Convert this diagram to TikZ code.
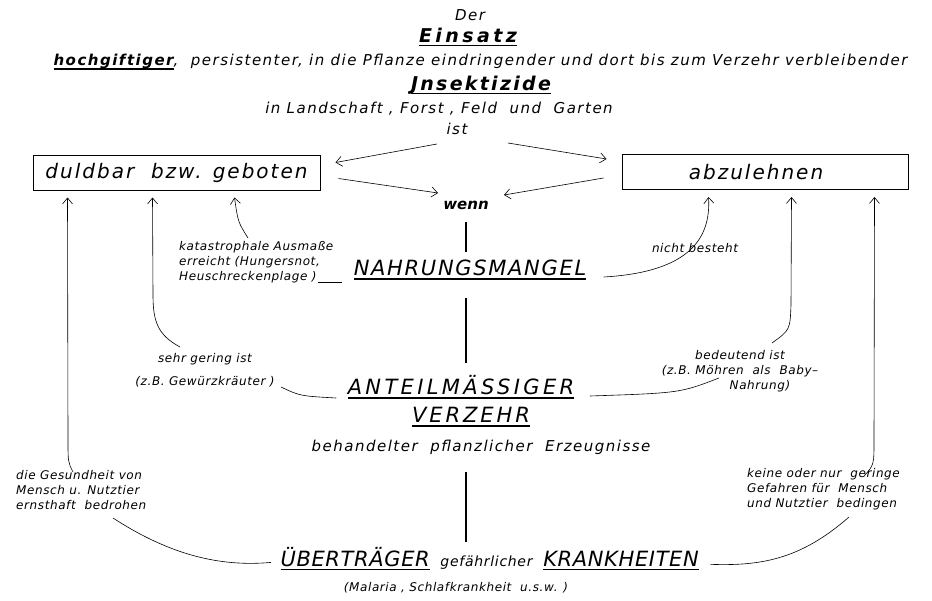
\documentclass[tikz,border=0pt]{standalone}
\usepackage{fontspec}
\setmainfont{DejaVu Sans}
\usetikzlibrary{arrows.meta,calc,positioning}

% underline with a heavier rule
\newcommand\strich[1]{\setbox0\hbox{#1}\rlap{\rule[-4pt]{\wd0}{1.3pt}}\box0}

\begin{document}
\begin{tikzpicture}[x=1pt,y=-1pt,
  zeile/.style={font=\fontsize{15}{17}\selectfont\itshape\addfontfeatures{LetterSpace=10}},
  klein/.style={font=\fontsize{12}{15}\selectfont\itshape\addfontfeatures{LetterSpace=5}, inner sep=1pt},
  titel/.style={font=\fontsize{19}{22}\selectfont\bfseries\itshape\addfontfeatures{LetterSpace=#1}},
  titel/.default=12,
  haupt/.style={font=\fontsize{21}{24}\selectfont\itshape\addfontfeatures{LetterSpace=#1}},
  haupt/.default=8,
  kasten/.style={draw, line width=1pt, minimum height=35pt, inner sep=0pt,
    font=\fontsize{20}{22}\selectfont\itshape\addfontfeatures{LetterSpace=10}},
  pfeil/.style={-{Straight Barb[length=6pt,width=10pt]}, line width=0.6pt},
  linie/.style={line width=0.6pt},
  balken/.style={line width=2.5pt}]

\useasboundingbox (0,0) rectangle (932,600);

% title
\node[zeile] (der) at (470,15) {Der};
\node[titel=18] (einsatz) at (468,37) {\strich{Einsatz}};
\node[zeile, anchor=west] (zeile3) at (50,62)
  {\strich{\bfseries hochgiftiger}, \ persistenter, in die Pflanze eindringender und dort bis zum Verzehr verbleibender};
\node[titel] (insekt) at (481,85) {\strich{Jnsektizide}};
\node[zeile] (orte) at (439,109) {in Landschaft , Forst , Feld \ und \ Garten};
\node[zeile] (ist) at (457,129) {ist};

% the two answers
\node[kasten, minimum width=287pt] (lb) at (176.5,172.5) {duldbar \ bzw. geboten};
\node[kasten, minimum width=286pt] (rb) at (765,172) {\hspace*{-18pt}abzulehnen};
\node[font=\fontsize{15}{17}\selectfont\bfseries\itshape] (wenn) at (466,205) {wenn};

% the three cases
\node[haupt] (nahrung) at (470,270) {\strich{NAHRUNGSMANGEL}};
\node[haupt=16] (anteil) at (461,387) {\strich{ANTEILMÄSSIGER}};
\node[haupt=14] (verzehr) at (471,417) {\strich{VERZEHR}};
\node[zeile] (behandelt) at (481,447) {behandelter \ pflanzlicher \ Erzeugnisse};
\node[haupt=3, anchor=base west] (ueber) at (277,566) {\strich{ÜBERTRÄGER}};
\node[klein, font=\fontsize{14}{16}\selectfont\itshape\addfontfeatures{LetterSpace=5},
  base right=6pt of ueber] (gef) {gefährlicher};
\node[haupt=3, base right=6pt of gef] (krank) {\strich{KRANKHEITEN}};
\node[klein] (malaria) at (456,588) {(Malaria , Schlafkrankheit \ u.s.w. )};

% side labels
\node[klein, anchor=north west, align=left] (kat) at (178,240)
  {katastrophale Ausmaße\\erreicht (Hungersnot,\\Heuschreckenplage )};
\node[klein] (nicht) at (695,248) {nicht besteht};
\node[klein, align=center] (sehr) at (205,370) {sehr gering ist\\[8pt](z.B. Gewürzkräuter )};
\node[klein, align=center] (bedeutend) at (740,371)
  {bedeutend ist\\(z.B. Möhren \ als \ Baby--\\\hspace*{40pt}Nahrung)};
\node[klein, anchor=north west, align=left] (gesund) at (15,469)
  {die Gesundheit von\\Mensch u. Nutztier\\ernsthaft \ bedrohen};
\node[klein, anchor=north west, align=left] (keine) at (746,467)
  {keine oder nur \ geringe\\Gefahren für \ Mensch\\und Nutztier \ bedingen};

% ist -> boxes -> wenn
\draw[pfeil] ($(ist)+(-20,15)$) -- ($(lb.east)+(15,-10)$);
\draw[pfeil] ($(ist)+(51,14)$) -- ($(rb.west)+(-15,-13)$);
\draw[pfeil] ($(lb.east)+(18,6)$) -- ($(wenn)+(-28,-12)$);
\draw[pfeil] ($(rb.west)+(-18,6)$) -- ($(wenn)+(38,-10)$);

% main column
\draw[balken, shorten <=9pt, shorten >=5pt] (wenn) -- (wenn |- nahrung.north);
\draw[balken, shorten <=15pt, shorten >=9pt] (wenn |- nahrung.south) -- (wenn |- anteil.north);
\draw[balken, shorten <=14pt, shorten >=1pt] (wenn |- behandelt.south) -- (wenn |- ueber.north);

% Nahrungsmangel
\draw[pfeil] ($(kat.north west)+(70,-2)$) .. controls (238,222) .. ($(lb.south west)+(202,7)$);
\draw[linie] ($(kat.north west)+(140,42)$) -- ($(nahrung.west)+(-8,12)$);
\draw[pfeil] ($(nahrung.east)+(14,7)$) .. controls (690,272) and (711,238) .. ($(rb.south west)+(87,7)$);

% Verzehr
\draw[pfeil] ($(sehr)+(-25,-23)$) .. controls (158,335) and (153,322) .. (153,295) -- ($(lb.south west)+(120,7)$);
\draw[linie] ($(sehr)+(76,17)$) .. controls (300,396) .. ($(anteil.west)+(-8,11)$);
\draw[linie] ($(anteil.east)+(12,9)$) .. controls (680,393) .. ($(bedeutend)+(-21,7)$);
\draw[pfeil] ($(bedeutend)+(32,-28)$) .. controls (790,330) .. (791,305) -- ($(rb.south west)+(170,7)$);

% Krankheiten
\draw[pfeil] ($(gesund.north west)+(58,3)$) .. controls (68,462) .. (68,440) -- ($(lb.south west)+(35,7)$);
\draw[linie] ($(gesund.north west)+(98,49)$) .. controls (170,555) and (220,567) .. ($(ueber.west)+(-6,4)$);
\draw[linie] ($(keine.north west)+(103,50)$) .. controls (800,560) and (760,566) .. ($(krank.east)+(8,4)$);
\draw[pfeil] ($(keine.north west)+(118,9)$) .. controls (874,465) .. (874,440) -- ($(rb.south west)+(253,7)$);
\end{tikzpicture}
\end{document}
